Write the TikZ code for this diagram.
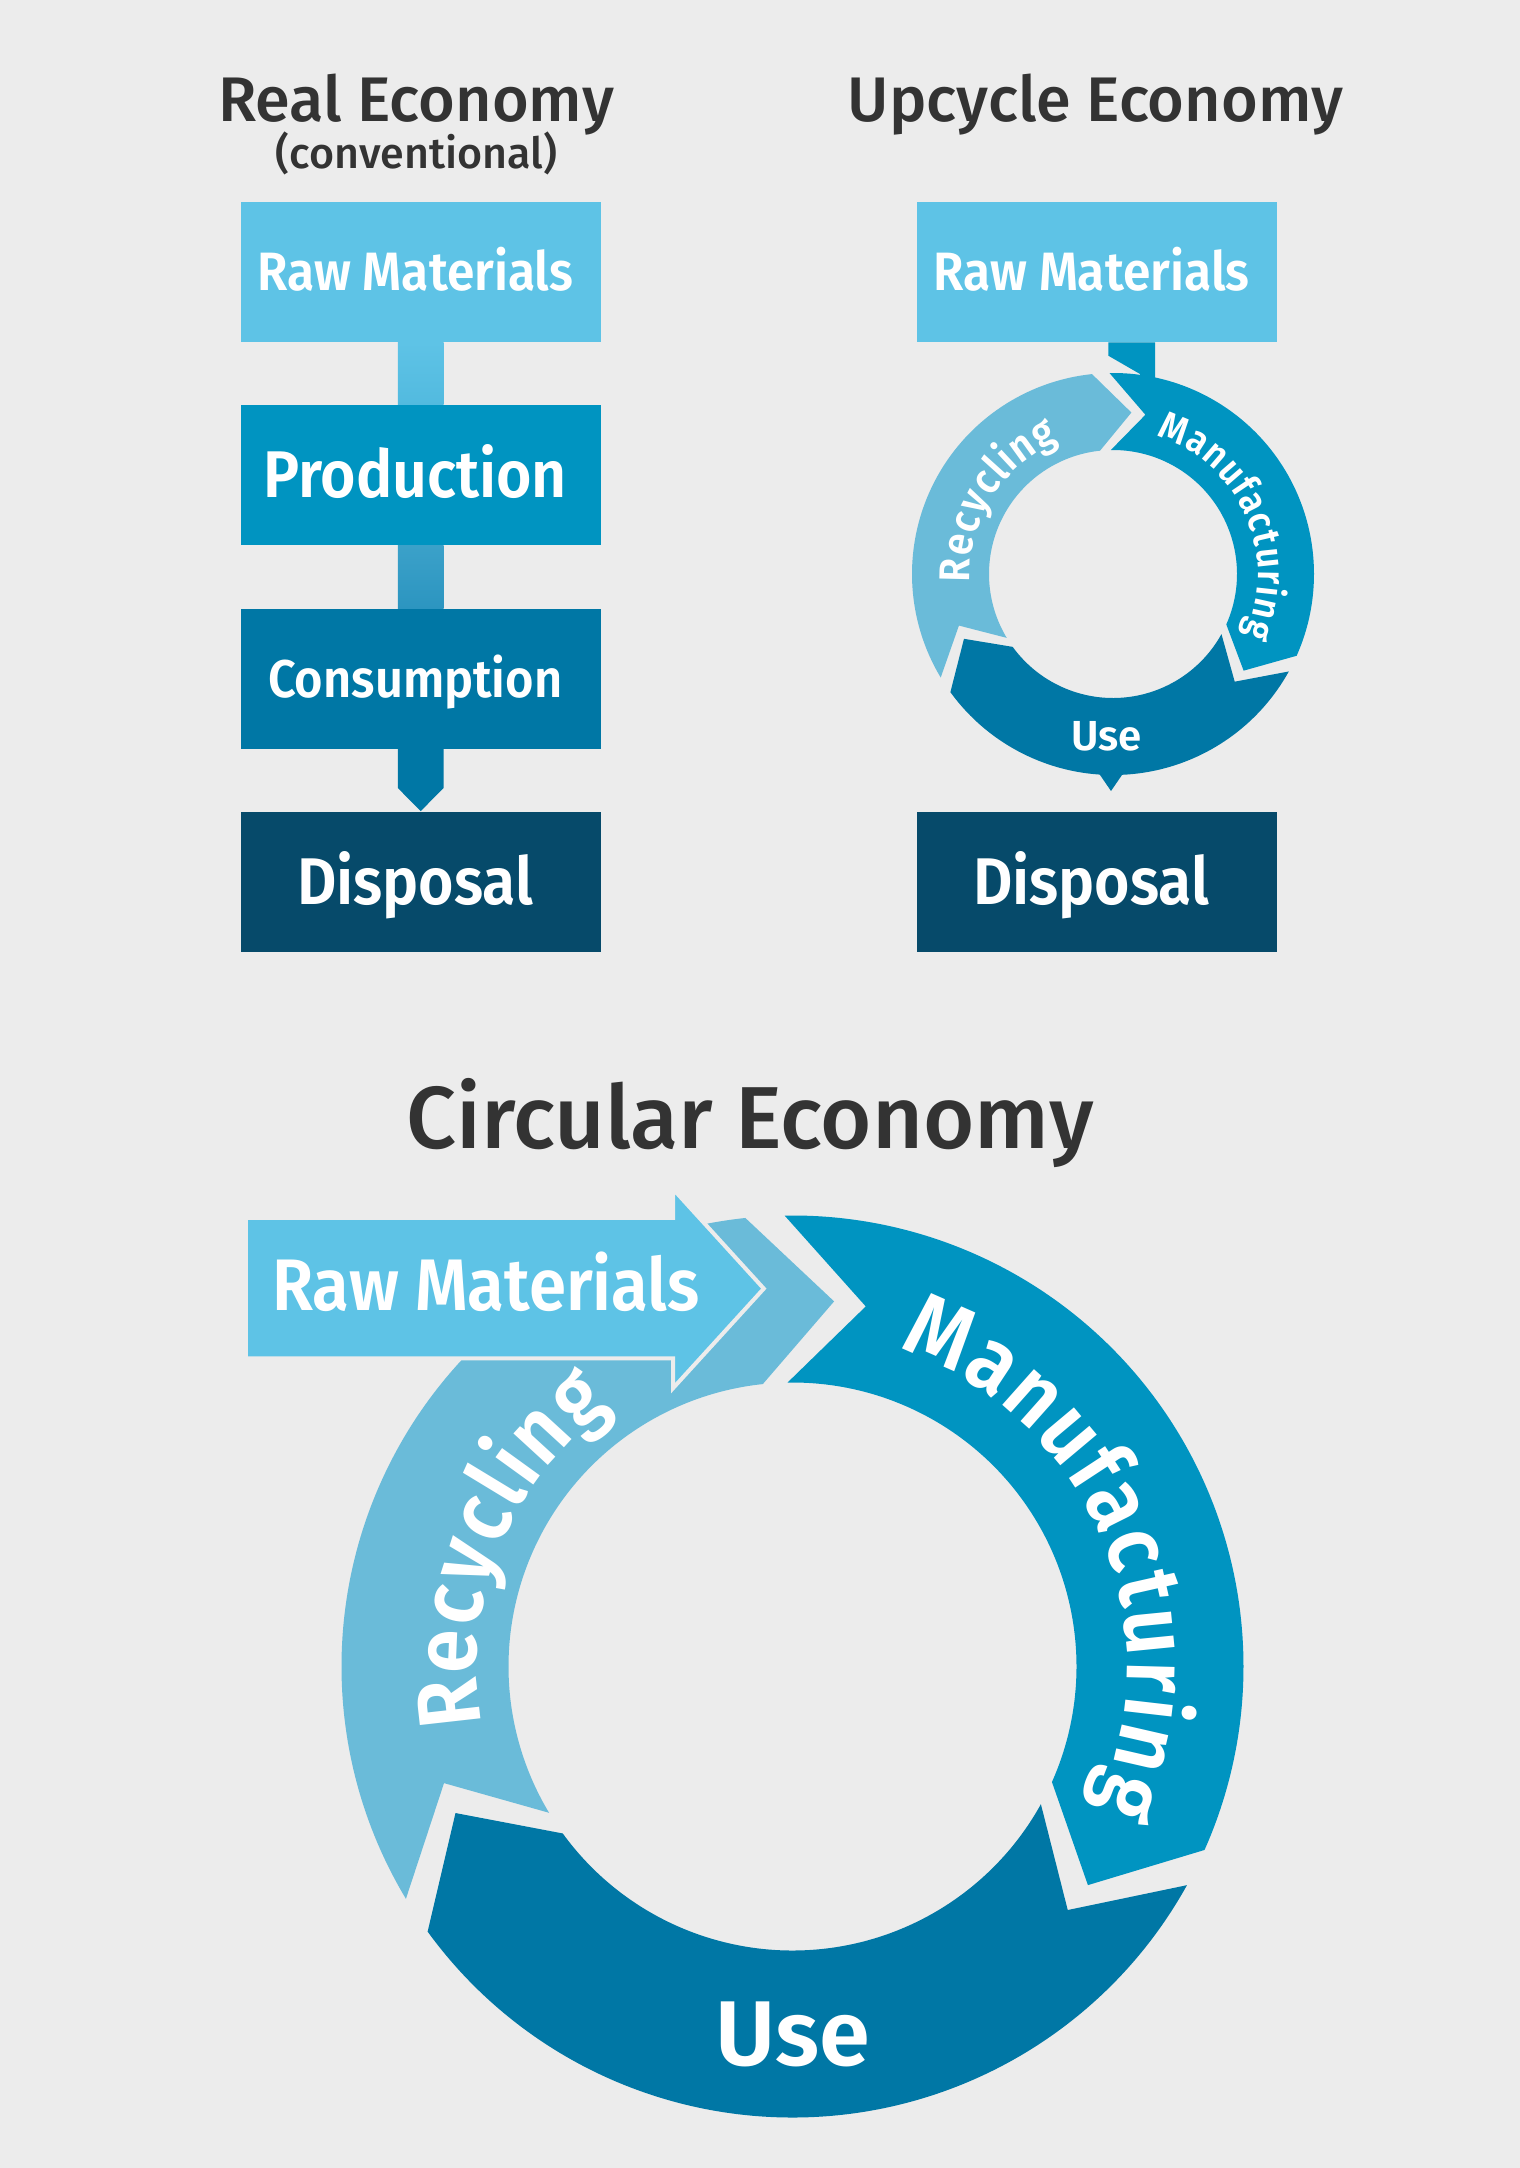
\documentclass[tikz,border=0pt]{standalone}
\usepackage{fontspec}
\setmainfont{Fira Sans}[BoldFont={Fira Sans SemiBold}]
\newfontfamily\medfont{Fira Sans Medium}
\newfontfamily\lblfont{Fira Sans SemiBold}[FakeStretch=0.92]
\newfontfamily\ringfont{Fira Sans SemiBold}[FakeStretch=0.9]
\usetikzlibrary{calc,decorations.text}
\definecolor{bg}{HTML}{ECECEC}
\definecolor{rawc}{HTML}{5EC3E6}
\definecolor{rawd}{HTML}{52BADF}
\definecolor{prodc}{HTML}{0094C1}
\definecolor{consc}{HTML}{0077A5}
\definecolor{dispc}{HTML}{064A6A}
\definecolor{recc}{HTML}{6ABBD9}
\definecolor{txt}{HTML}{333333}
\definecolor{ctop}{HTML}{3BA1C9}
\definecolor{cbot}{HTML}{2C95C0}
\newcommand\myfs[1]{\fontsize{#1}{#1}\selectfont}
\newcommand\lft[1]{#1\hspace*{5.5pt}}
% ring segment: Rin Rout start end offset colour
\newcommand\ringseg[6]{%
  \fill[#6] (#3:#2) arc[start angle=#3, end angle=#4, radius=#2]
    -- ({#4-#5}:{(#1+#2)/2}) -- (#4:#1)
    arc[start angle=#4, end angle=#3, radius=#1]
    -- ({#3-#5}:{(#1+#2)/2}) -- cycle;}
\tikzset{
  box/.style={minimum width=180pt, minimum height=70pt, inner sep=0pt,
    text depth=0pt, text=white},
  head/.style={anchor=base, text=txt, inner sep=0pt},
  lbl/.style={anchor=base, text=white, inner sep=0pt},
}
\begin{document}
\begin{tikzpicture}[x=0.5pt,y=0.5pt]
\fill[bg] (0,0) rectangle (1520,-2168);
\useasboundingbox (0,0) rectangle (1520,-2168);

% ---------- headings
\node[head, font=\medfont\myfs{31.5}] (h1) at (416,-121.7) {Real Economy};
\node[head, font=\medfont\myfs{21.5}] (h1b) at (416.7,-168.3) {(conventional)};
\node[head, font=\medfont\myfs{31.5}] (h2) at (1095.4,-121.7) {Upcycle Economy};
\node[head, font=\medfont\myfs{44}] (h3) at (750,-1148) {Circular Economy};

% ---------- real economy column
\node[box, fill=rawc, font=\lblfont\myfs{27}, text height=18.6pt] (raw1) at (420.7,-272) {\lft{Raw Materials}};
\node[box, fill=prodc, font=\lblfont\myfs{33}, text height=22.7pt] (prod1) at (420.7,-475.2) {\lft{Production}};
\node[box, fill=consc, font=\lblfont\myfs{26.5}, text height=18.3pt] (cons1) at (420.7,-678.7) {\lft{Consumption}};
\node[box, fill=dispc, font=\lblfont\myfs{33}, text height=22.7pt] (disp1) at (420.7,-881.5) {\lft{Disposal}};

\shade[top color=rawc, bottom color=rawd] ([xshift=-11.4pt]raw1.south) rectangle ([xshift=11.4pt]prod1.north);
\shade[top color=ctop, bottom color=cbot] ([xshift=-11.4pt]prod1.south) rectangle ([xshift=11.4pt]cons1.north);
\fill[consc] ([xshift=-11.4pt]cons1.south) -- ([xshift=-11.4pt,yshift=-19.5pt]cons1.south)
  -- (disp1.north) -- ([xshift=11.4pt,yshift=-19.5pt]cons1.south) -- ([xshift=11.4pt]cons1.south) -- cycle;

% ---------- upcycle economy column
\node[box, fill=rawc, font=\lblfont\myfs{27}, text height=18.6pt] (raw2) at (1096.8,-272) {\lft{Raw Materials}};
\node[box, fill=dispc, font=\lblfont\myfs{33}, text height=22.7pt] (disp2) at (1096.8,-881.5) {\lft{Disposal}};
\fill[prodc] ([xshift=5.75pt]raw2.south) -- ([xshift=29.1pt]raw2.south)
  -- ([xshift=29.1pt,yshift=-22pt]raw2.south) -- ([xshift=21.6pt,yshift=-22pt]raw2.south)
  -- ([xshift=21.6pt,yshift=-15.8pt]raw2.south) -- ([xshift=5.75pt,yshift=-6.65pt]raw2.south) -- cycle;
\begin{scope}[shift={(1113,-574)}]
  \ringseg{124}{201}{91}{-24}{12.5}{prodc}
  \ringseg{124}{201}{-29}{-144}{12.5}{consc}
  \ringseg{124}{201}{211}{96}{12.5}{recc}
  \fill[consc] (-15,-198) -- (-2,-217) -- (11,-198) -- cycle;
  \path[decorate, decoration={text along path, text align=center, text color=white,
     text={|\ringfont\myfs{19.5}\kern0.6pt|Manufacturing}}]
     (84:145) arc[start angle=84, end angle=-36, radius=145];
  \path[decorate, decoration={text along path, text align=center, text color=white,
     text={|\ringfont\myfs{21.5}\kern0.6pt|Recycling}}]
     (208:143) arc[start angle=208, end angle=88, radius=143];
\end{scope}
\node[lbl, font=\bfseries\myfs{21}] (use2) at (1106.7,-750.7) {Use};

% ---------- circular economy
\begin{scope}[shift={(792.5,-1666.5)}]
  \ringseg{284}{451}{211}{96}{12.5}{recc}
\end{scope}
\draw[fill=rawc, draw=bg, line width=2pt, line join=miter]
  (245.9,-1217.8) -- (673.1,-1217.8) -- (673.1,-1189) -- (763.8,-1288.6)
  -- (673.1,-1388.1) -- (673.1,-1358.3) -- (245.9,-1358.3) -- cycle;
\node[lbl, font=\lblfont\myfs{36.5}] (raw3) at (486,-1310) {Raw Materials};
\begin{scope}[shift={(792.5,-1666.5)}]
  \ringseg{284}{451}{91}{-24}{12.5}{prodc}
  \ringseg{284}{451}{-29}{-144}{12.5}{consc}
  \path[decorate, decoration={text along path, text align=center, text color=white,
     text={|\ringfont\myfs{45}\kern1.2pt|Manufacturing}}]
     (83.4:335) arc[start angle=83.4, end angle=-36.6, radius=335];
  \path[decorate, decoration={text along path, text align=center, text color=white,
     text={|\ringfont\myfs{44}\kern1.2pt|Recycling}}]
     (218:316) arc[start angle=218, end angle=98, radius=316];
\end{scope}
\node[lbl, font=\bfseries\myfs{46}] (use3) at (792.5,-2065) {Use};
\end{tikzpicture}
\end{document}
